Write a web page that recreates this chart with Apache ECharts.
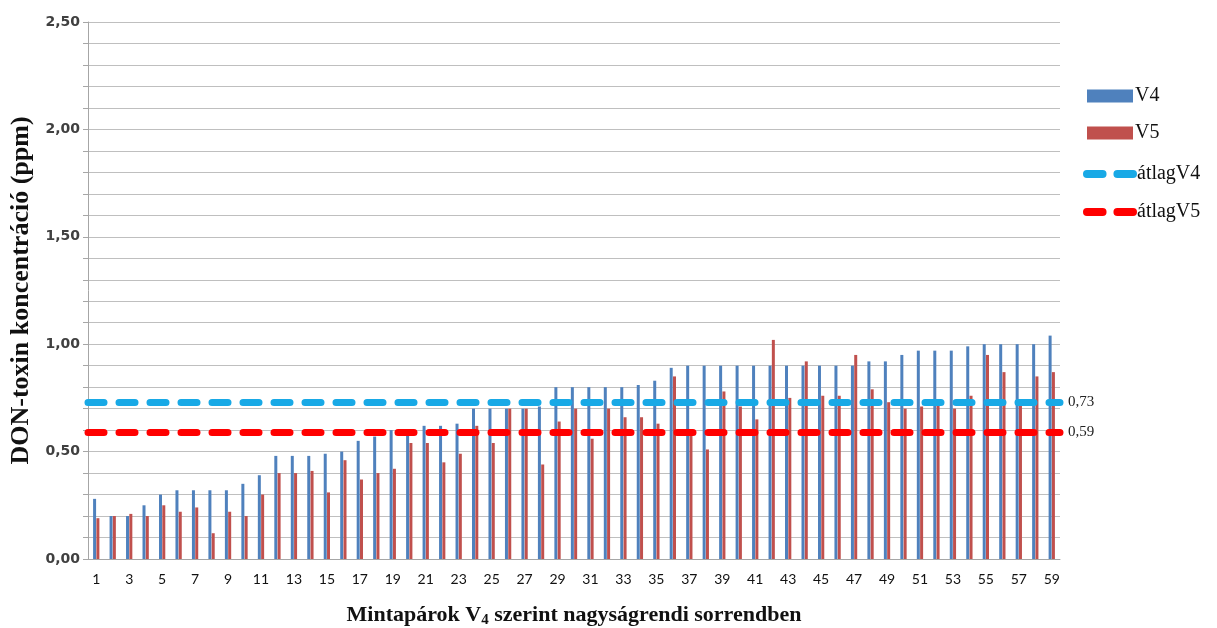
<!DOCTYPE html>
<html>
<head>
<meta charset="utf-8">
<script src="https://cdn.jsdelivr.net/npm/echarts@6/dist/echarts.min.js"></script>
<style>html,body{margin:0;padding:0;background:#fff}#c{width:1217px;height:628px}</style>
</head>
<body>
<div id="c"></div>
<script>
const categories = ['1','2','3','4','5','6','7','8','9','10','11','12','13','14','15','16','17','18','19','20','21','22','23','24','25','26','27','28','29','30','31','32','33','34','35','36','37','38','39','40','41','42','43','44','45','46','47','48','49','50','51','52','53','54','55','56','57','58','59'];
const V4 = [0.28,0.20,0.20,0.25,0.30,0.32,0.32,0.32,0.32,0.35,
            0.39,0.48,0.48,0.48,0.49,0.50,0.55,0.57,0.60,0.58,
            0.62,0.62,0.63,0.70,0.70,0.70,0.70,0.71,0.80,0.80,
            0.80,0.80,0.80,0.81,0.83,0.89,0.90,0.90,0.90,0.90,
            0.90,0.90,0.90,0.90,0.90,0.90,0.90,0.92,0.92,0.95,
            0.97,0.97,0.97,0.99,1.00,1.00,1.00,1.00,1.04];
const V5 = [0.19,0.20,0.21,0.20,0.25,0.22,0.24,0.12,0.22,0.20,
            0.30,0.40,0.40,0.41,0.31,0.46,0.37,0.40,0.42,0.54,
            0.54,0.45,0.49,0.62,0.54,0.70,0.70,0.44,0.64,0.70,
            0.56,0.70,0.66,0.66,0.63,0.85,0.58,0.51,0.78,0.71,
            0.65,1.02,0.75,0.92,0.76,0.76,0.95,0.79,0.73,0.70,
            0.71,0.72,0.70,0.76,0.95,0.87,0.73,0.85,0.87];
const avgV4 = 0.73;
const avgV5 = 0.59;
const avgLabels = ['0,73', '0,59'];

const dashIcon = 'path://M4,0 H20 A4,4 0 0 1 20,8 H4 A4,4 0 0 1 4,0 Z M35,0 H51 A4,4 0 0 1 51,8 H35 A4,4 0 0 1 35,0 Z';
const serif = '"Liberation Serif", "DejaVu Serif", serif';
const sans = 'Lato, "Open Sans", sans-serif';

const chart = echarts.init(document.getElementById('c'), null, {renderer: 'canvas'});
chart.setOption({
  animation: false,
  backgroundColor: '#ffffff',
  grid: {left: 88, right: 157, top: 22, bottom: 69, containLabel: false, outerBoundsMode: 'none'},
  legend: [{
    orient: 'vertical', left: 1082, top: 81, itemWidth: 46, itemHeight: 13, itemGap: 17,
    textStyle: {fontFamily: serif, fontSize: 20, color: '#111', padding: [0, 0, 0, -3]},
    data: [{name: 'V4', icon: 'rect'}, {name: 'V5', icon: 'rect'}]
  }, {
    orient: 'vertical', left: 1078, top: 159, itemWidth: 54, itemHeight: 8, itemGap: 18,
    symbolKeepAspect: false,
    textStyle: {fontFamily: serif, fontSize: 20, color: '#111', padding: [0, 0, 0, -5]},
    data: [
      {name: 'átlagV4', icon: dashIcon, itemStyle: {color: '#18A9E6'}},
      {name: 'átlagV5', icon: dashIcon, itemStyle: {color: '#FF0000'}}
    ]
  }],
  xAxis: {
    type: 'category', data: categories,
    axisLine: {lineStyle: {color: '#a6a6a6'}},
    axisTick: {show: false},
    axisLabel: {interval: 1, color: '#111', fontFamily: sans, fontSize: 14, margin: 13},
    name: 'Mintapárok V{sub|4} szerint nagyságrendi sorrendben',
    nameLocation: 'middle', nameGap: 44,
    nameTextStyle: {fontFamily: serif, fontSize: 22, fontWeight: 'bold', color: '#111',
      rich: {sub: {fontFamily: serif, fontSize: 15, fontWeight: 'bold', color: '#111', verticalAlign: 'bottom', padding: [10, 0, 0, 0]}}}
  },
  yAxis: {
    type: 'value', min: 0, max: 2.5, interval: 0.5,
    axisLine: {show: true, lineStyle: {color: '#a6a6a6'}},
    axisTick: {show: true, length: 5, lineStyle: {color: '#a6a6a6'}},
    minorTick: {show: true, splitNumber: 5, length: 5, lineStyle: {color: '#a6a6a6'}},
    splitLine: {lineStyle: {color: '#bfbfbf', width: 1}},
    minorSplitLine: {show: true, lineStyle: {color: '#bfbfbf', width: 1}},
    axisLabel: {color: '#404040', fontFamily: '"DejaVu Sans", sans-serif', fontSize: 14, fontWeight: 'bold', margin: 8,
      formatter: v => v.toFixed(2).replace('.', ',')},
    name: 'DON-toxin koncentráció (ppm)', nameLocation: 'middle', nameGap: 54, nameRotate: 90,
    nameTextStyle: {fontFamily: serif, fontSize: 26, fontWeight: 'bold', color: '#111'}
  },
  series: [
    {name: 'V4', type: 'bar', data: V4, barWidth: 3, barGap: '10%', itemStyle: {color: '#4F81BD'}},
    {name: 'V5', type: 'bar', data: V5, barWidth: 3, itemStyle: {color: '#C0504D'}},
    {name: 'átlagV4', type: 'line', data: [], itemStyle: {color: '#18A9E6'},
      markLine: {silent: true, symbol: ['none', 'none'],
        lineStyle: {color: '#18A9E6', width: 7, type: [16, 15], cap: 'round'},
        label: {show: true, position: 'end', distance: 8, formatter: avgLabels[0], fontFamily: serif, fontSize: 15, color: '#222'},
        data: [{yAxis: avgV4}]}},
    {name: 'átlagV5', type: 'line', data: [], itemStyle: {color: '#FF0000'},
      markLine: {silent: true, symbol: ['none', 'none'],
        lineStyle: {color: '#FF0000', width: 7, type: [16, 15], cap: 'round'},
        label: {show: true, position: 'end', distance: 8, formatter: avgLabels[1], fontFamily: serif, fontSize: 15, color: '#222'},
        data: [{yAxis: avgV5}]}}
  ]
});
</script>
</body>
</html>
